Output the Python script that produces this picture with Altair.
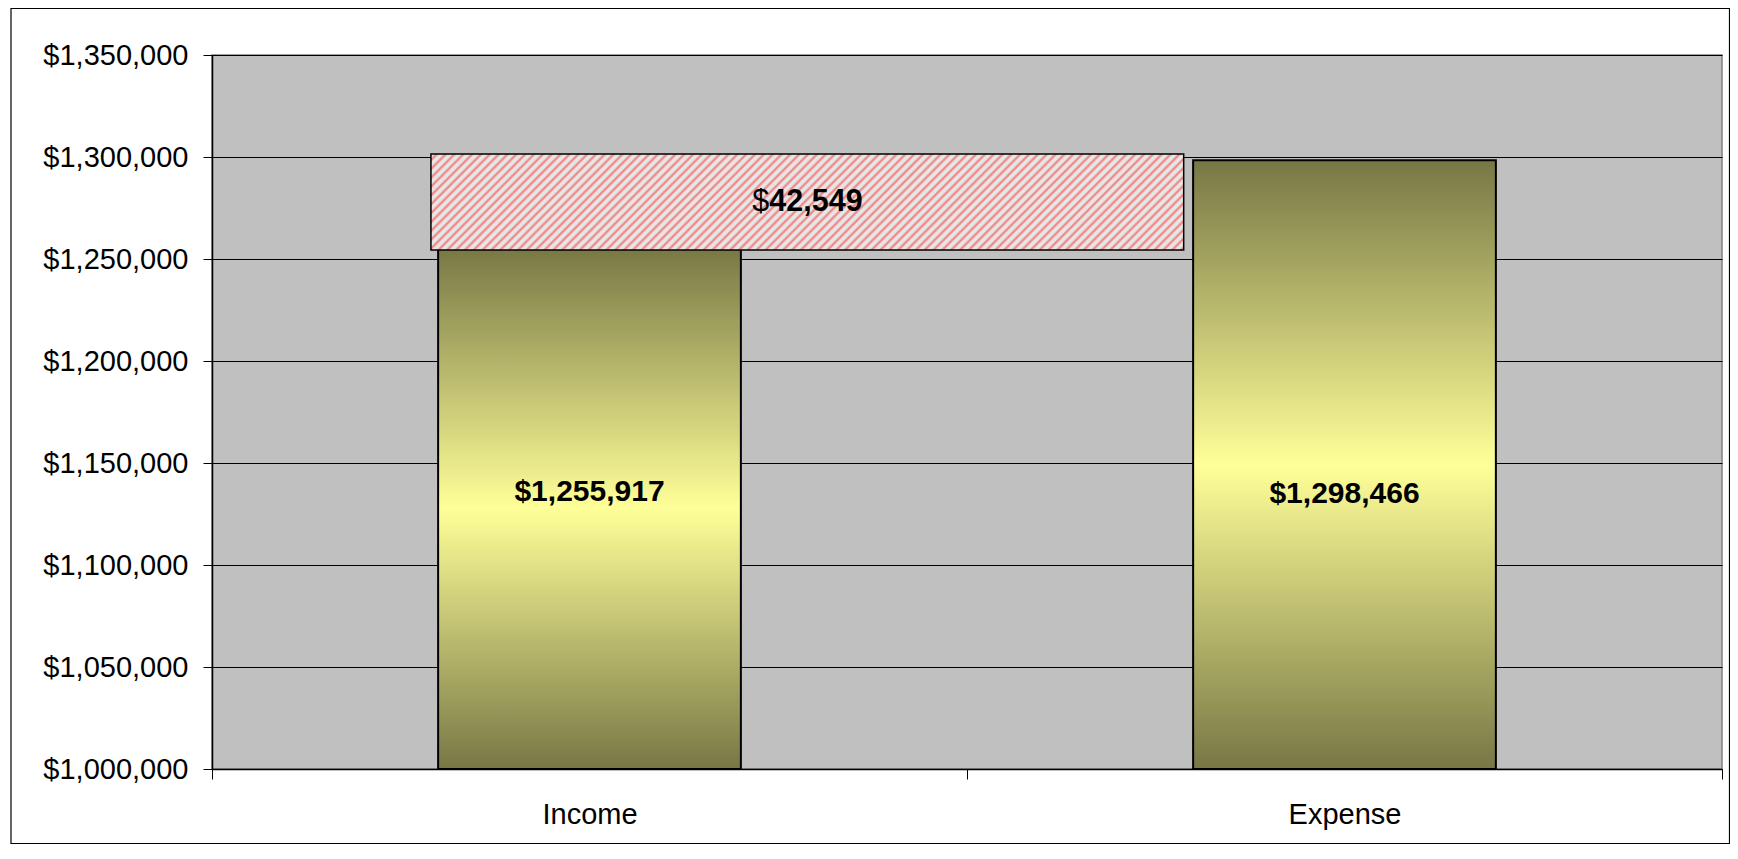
import altair as alt
import pandas as pd

# ---- data ----
categories = ["Income", "Expense"]
amounts = [1255917, 1298466]
amount_labels = ["$1,255,917", "$1,298,466"]
label_levels = [1136000, 1135000]      # vertical position of the in-bar labels
gap_value = 42549
gap_low = 1254400
gap_high = 1301500
y_ticks = [1000000, 1050000, 1100000, 1150000, 1200000, 1250000, 1300000, 1350000]
y_domain = [1000000, 1350000]

bars_df = pd.DataFrame({
    "category": categories,
    "amount": amounts,
    "label": amount_labels,
    "level": label_levels,
})
gap_df = pd.DataFrame({
    "start": [categories[0]],
    "end": [categories[1]],
    "low": [gap_low],
    "high": [gap_high],
    "mid": [(gap_low + gap_high) / 2],
    "cur": ["$"],
    "num": [f"{gap_value:,}"],
})

FONT = "Liberation Sans"

# ---- styles ----
bar_gradient = alt.Gradient(
    gradient="linear", x1=0, y1=0, x2=0, y2=1,
    stops=[
        alt.GradientStop(offset=0.0, color="#777745"),
        alt.GradientStop(offset=0.5, color="#ffff99"),
        alt.GradientStop(offset=1.0, color="#777745"),
    ],
)

# diagonal stripe pattern approximated by a many-stop linear gradient
W, H = 753.0, 96.0
k = H / W
m = (1 + k) / (1 + k * k)
periods = 96
stripe_stops = []
for i in range(periods):
    b = i / periods
    p = 1.0 / periods
    stripe_stops += [
        alt.GradientStop(offset=b, color="#e6e6e6"),
        alt.GradientStop(offset=b + 0.40 * p, color="#e6e6e6"),
        alt.GradientStop(offset=b + 0.62 * p, color="#f08c8c"),
        alt.GradientStop(offset=b + 0.78 * p, color="#f08c8c"),
    ]
stripe_stops.append(alt.GradientStop(offset=1.0, color="#e6e6e6"))
hatch = alt.Gradient(gradient="linear", x1=0, y1=0, x2=m, y2=m * k, stops=stripe_stops)

x_scale = alt.Scale(domain=categories, paddingInner=0, paddingOuter=0)
y_scale = alt.Scale(domain=y_domain, nice=False, zero=False)

x_axis = alt.Axis(
    title=None, labelAngle=0, tickBand="extent", tickSize=10,
    labelPadding=21, labelFontSize=29, labelFont=FONT, labelColor="black",
    domainColor="black", tickColor="black", domainWidth=1.5, grid=False,
)
y_axis = alt.Axis(
    values=y_ticks, format="$,.0f", title=None, labelFontSize=29,
    labelFont=FONT, labelColor="black", tickSize=9, labelPadding=15,
    gridColor="black", gridWidth=1, domainColor="black", domainWidth=1.5,
    tickColor="black",
)

frame = alt.Chart(pd.DataFrame({"f": [0]})).mark_rect(
    filled=False, stroke="black", strokeWidth=1.2
).encode(
    x=alt.value(-201), x2=alt.value(1517.5),
    y=alt.value(-46.5), y2=alt.value(788.5),
)

bars = alt.Chart(bars_df).mark_bar(
    width=alt.RelativeBandSize(0.401), color=bar_gradient,
    stroke="black", strokeWidth=2,
).encode(
    x=alt.X("category:N", scale=x_scale, sort=categories, axis=x_axis),
    y=alt.Y("amount:Q", scale=y_scale, axis=y_axis),
    y2=alt.datum(y_domain[0]),
)

bar_text = alt.Chart(bars_df).mark_text(
    font=FONT, fontSize=30, fontWeight="bold", color="black", baseline="middle"
).encode(
    x=alt.X("category:N", scale=x_scale, axis=x_axis),
    y=alt.Y("level:Q", scale=y_scale, axis=y_axis),
    text="label:N",
)

gap_box = alt.Chart(gap_df).mark_rect(
    color=hatch, stroke="black", strokeWidth=1.5
).encode(
    x=alt.X("start:N", bandPosition=0.29, scale=x_scale, axis=x_axis),
    x2=alt.X2("end:N", bandPosition=0.287),
    y=alt.Y("low:Q", scale=y_scale, axis=y_axis),
    y2="high:Q",
)

gap_cur = alt.Chart(gap_df).mark_text(
    font=FONT, fontSize=30.5, color="black", baseline="middle", align="right", dx=-38
).encode(
    x=alt.X("start:N", bandPosition=0.7885, scale=x_scale, axis=x_axis),
    y=alt.Y("mid:Q", scale=y_scale, axis=y_axis),
    text="cur:N",
)
gap_num = alt.Chart(gap_df).mark_text(
    font=FONT, fontSize=30.5, fontWeight="bold", color="black", baseline="middle",
    align="left", dx=-38
).encode(
    x=alt.X("start:N", bandPosition=0.7885, scale=x_scale, axis=x_axis),
    y=alt.Y("mid:Q", scale=y_scale, axis=y_axis),
    text="num:N",
)

chart = alt.layer(frame, bars, gap_box, bar_text, gap_cur, gap_num).properties(
    width=1510, height=714,
    autosize=alt.AutoSizeParams(type="none"),
    padding={"left": 204, "top": 47, "right": 8, "bottom": 75},
    background="white",
).configure_view(
    fill="#c0c0c0", stroke="#808080", strokeWidth=1.5
)

chart.save("out.html", embed_options={"renderer": "svg", "actions": False})
